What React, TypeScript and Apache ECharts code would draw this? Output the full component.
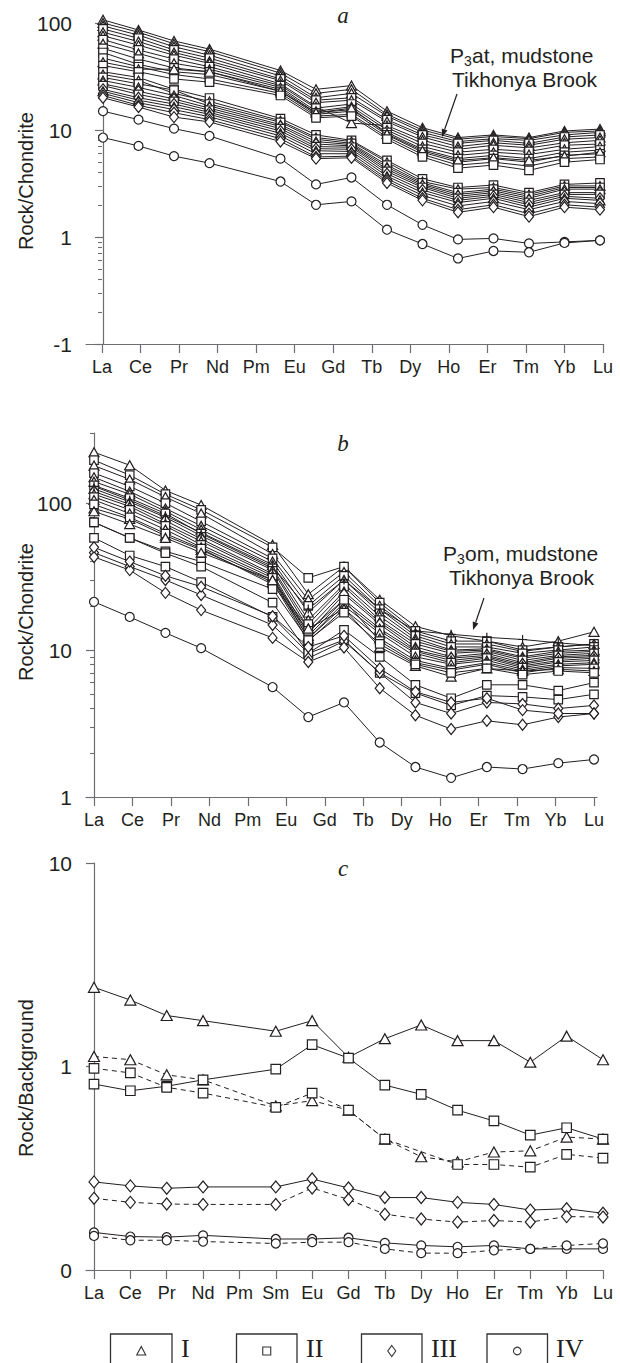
import React, { useEffect, useRef } from "react";
import * as echarts from "echarts";

// ---------- categories / tick labels ----------
const REE_ALL = ["La", "Ce", "Pr", "Nd", "Pm", "Sm", "Eu", "Gd", "Tb", "Dy", "Ho", "Er", "Tm", "Yb", "Lu"];
const REE_AB = ["La", "Ce", "Pr", "Nd", "Pm", "Eu", "Gd", "Tb", "Dy", "Ho", "Er", "Tm", "Yb", "Lu"];

const yTicksA = [0.1, 1, 10, 100];
const yTickTextA = ["-1", "1", "10", "100"];
const yTicksB = [1, 10, 100];
const yTickTextB = ["1", "10", "100"];
const yTicksC = [0.1, 1, 10];
const yTickTextC = ["0", "1", "10"];
const minorMultipliers = [2, 3, 4, 5, 6, 7, 8, 9];

// ---------- panel a (Rock/Chondrite) ----------
const a_I_1 = [107, 86, 68, 57, null, 36, 24, 26, 15, 10.5, 8.5, 9, 8.5, 9.8, 10.2];
const a_I_2 = [100, 82, 64, 54, null, 34, 22, 24, 14, 10, 8.2, 8.7, 8.3, 9.5, 9.8];
const a_I_3 = [94, 77, 60, 50, null, 32, 20, 22, 13.5, 9.5, 7.8, 8.3, 8, 9, 9.5];
const a_II_1 = [88, 72, 56, 47, null, 30, 19, 20, 12.5, 9, 7.5, 8, 7.5, 8.6, 9];
const a_I_4 = [82, 67, 53, 44, null, 29, 18, 19, 12, 8.6, 7, 7.6, 7.2, 8.2, 8.5];
const a_I_5 = [76, 62, 50, 42, null, 27, 16.5, 11.6, 11, 8, 6.6, 7.2, 6.8, 7.6, 8];
const a_II_2 = [70, 56, 46, 39, null, 26, 16, 17.5, 10.5, 7.5, 6.2, 6.6, 6.3, 7.2, 7.4];
const a_I_6 = [64, 52, 42, 37, null, 25, 15, 16.5, 10, 7, 5.8, 6.2, 5.9, 6.6, 7];
const a_II_3 = [58, 46, 38, 35, null, 24, 14.5, 15.5, 9.5, 6.6, 5.4, 5.8, 5.4, 6.2, 6.5];
const a_II_4 = [53, 41, 35, 33, null, 23, 14, 15, 9, 6.2, 5, 5.4, 5, 5.8, 6];
const a_II_5 = [47, 39, 33, 30, null, 22, 13.5, 14, 8.6, 5.9, 4.7, 5, 4.6, 5.4, 5.6];
const a_I_7 = [43, 37, 37, 35, null, 23, 14.5, 16, 9.2, 6.4, 5.2, 5.5, 5.2, 5.7, 6.2];
const a_II_6 = [40, 35, 30, 28, null, 21, 13, 13.5, 8.2, 5.6, 4.4, 4.7, 4.2, 5, 5.3];
const a_II_7 = [35, 31, 24, 19.9, null, 12.8, 9, 8, 5.2, 3.5, 2.9, 3.06, 2.6, 3.1, 3.2];
const a_I_8 = [33, 29, 22, 18.5, null, 12.2, 8.5, 7.8, 5, 3.3, 2.8, 2.9, 2.5, 3, 3];
const a_II_8 = [31, 27, 23.6, 17.5, null, 11.8, 8.2, 7.5, 4.7, 3.2, 2.6, 2.8, 2.4, 2.9, 2.9];
const a_I_9 = [29, 25, 21, 16.8, null, 11.2, 7.8, 7.3, 4.5, 3.1, 2.5, 2.7, 2.3, 2.8, 2.8];
const a_III_1 = [27, 23, 19.5, 16, null, 10.8, 7.4, 7.1, 4.3, 3, 2.4, 2.6, 2.2, 2.6, 2.6];
const a_II_9 = [26, 21.5, 18.5, 15.3, null, 10.3, 7, 6.9, 4.1, 2.9, 2.3, 2.5, 2.1, 2.5, 2.5];
const a_III_2 = [24, 20, 17.5, 14.6, null, 9.8, 6.7, 6.6, 3.9, 2.75, 2.2, 2.4, 2, 2.4, 2.3];
const a_I_10 = [23, 19, 16.5, 14, null, 9.3, 6.4, 6.3, 3.7, 2.6, 2.1, 2.3, 1.9, 2.3, 2.2];
const a_III_3 = [22, 18, 15.5, 13.3, null, 8.8, 6, 6, 3.5, 2.45, 1.95, 2.15, 1.8, 2.15, 2.05];
const a_III_4 = [21, 17, 14.5, 12.5, null, 8.3, 5.6, 5.7, 3.35, 2.3, 1.8, 2, 1.65, 2, 1.9];
const a_III_5 = [20, 16.4, 13.2, 11.9, null, 7.8, 5.4, 5.5, 3.2, 2.2, 1.7, 1.9, 1.55, 1.9, 1.8];
const a_IV_1 = [15, 12.5, 10.3, 8.8, null, 5.4, 3.1, 3.6, 2.0, 1.3, 0.95, 0.97, 0.87, 0.9, 0.93];
const a_IV_2 = [8.5, 7.1, 5.7, 4.9, null, 3.3, 2.0, 2.15, 1.17, 0.86, 0.63, 0.74, 0.72, 0.88, 0.93];

// ---------- panel b (Rock/Chondrite) ----------
const b_I_1 = [222, 181, 122, 97, null, 52, 24, 37, 22, 14.5, 12.5, 11.5, 10.5, 11.5, 13.3];
const b_II_1 = [196, 155, 115, 90, null, 50, 31, 37, 21, 13.5, 11.5, 11.5, 10, 10.5, 11];
const b_I_2 = [180, 145, 110, 85, null, 45, 22, 34, 20, 13, 11, 11, 9.8, 10.5, 11];
const b_II_2 = [160, 130, 100, 75, null, 42, 20, 32, 19, 12.5, 10.5, 10.5, 9.5, 10, 10.5];
const b_I_3 = [150, 120, 92, 70, null, 40, 18, 30, 18, 12, 10, 10.2, 9, 9.8, 10];
const b_I_4 = [140, 115, 88, 66, null, 38, 16, 28, 17, 11.5, 9.8, 10, 8.8, 9.5, 9.8];
const b_II_3 = [132, 108, 85, 62, null, 36, 15, 27, 16, 11, 9.5, 9.8, 8.5, 9.2, 9.5];
const b_I_5 = [125, 102, 80, 60, null, 35, 14, 25, 15.5, 10.5, 9, 9.5, 8.2, 9, 9.2];
const b_III_1 = [120, 98, 76, 57, null, 33, 13, 24, 15, 10, 8.8, 9.2, 8, 8.8, 9];
const b_I_6 = [115, 95, 72, 55, null, 32, 12.5, 22, 14, 9.8, 8.5, 9, 7.8, 8.5, 8.8];
const b_II_4 = [110, 90, 70, 52, null, 31, 12, 21, 13.5, 9.5, 8.2, 8.8, 7.6, 8.3, 8.5];
const b_I_7 = [105, 85, 66, 50, null, 30, 12, 20, 13, 9, 8, 8.5, 7.4, 8, 8.2];
const b_I_8 = [92, 78, 60, 48, null, 29, 11.5, 19, 12, 8.5, 7.5, 8.2, 7.2, 7.8, 8];
const b_II_5 = [98, 80, 62, 49, null, 28, 13.5, 22, 11.5, 8.2, 7.3, 8, 7, 7.6, 7.5];
const b_I_9 = [88, 72, 58, 46, null, 30, 14, 19, 10.5, 7.8, 6.6, 7.5, 7.2, 7.4, 7.2];
const b_II_6 = [74, 58, 47, 40, null, 26, 11.7, 18, 11, 8, 7, 7.5, 6.8, 7.2, 7];
const b_II_7 = [74, 58, 45.6, 37, null, 21, 9.5, 13.7, 9, 5.8, 4.7, 5.8, 5.8, 5.3, 6.0];
const b_II_8 = [58, 44, 37, 29, null, 16.8, 9.5, 11.7, 7, 5.1, 4.2, 4.9, 4.8, 4.6, 5.0];
const b_III_2 = [46, 37, 30, 23.7, null, 14.8, 8.8, 11.5, 7, 4.4, 3.7, 4.4, 4.3, 4.0, 4.2];
const b_III_3 = [43, 35, 24.5, 18.7, null, 12.1, 8.3, 10.4, 5.5, 3.6, 2.9, 3.3, 3.1, 3.5, 3.7];
const b_III_4 = [50, 40, 32, 27, null, 17, 10.5, 12.5, 7.5, 5.2, 4.4, 4.7, 3.9, 3.7, 3.7];
const b_IV_1 = [21.3, 16.8, 13.1, 10.3, null, 5.6, 3.5, 4.4, 2.35, 1.6, 1.35, 1.6, 1.55, 1.7, 1.8];
const b_X_1 = [130, 105, 82, 63, null, 37, 19, 30, 19, 13.5, 12.8, 12.2, 11.8, 11.2, 10.7];

// ---------- panel c (Rock/Background) ----------
const c_I_solid = [2.45, 2.12, 1.78, 1.68, null, 1.49, 1.68, 1.11, 1.37, 1.6, 1.34, 1.34, 1.05, 1.41, 1.08];
const c_I_dash = [1.12, 1.08, 0.91, 0.86, null, 0.64, 0.68, 0.61, 0.44, 0.36, 0.34, 0.38, 0.385, 0.45, 0.44];
const c_II_solid = [0.82, 0.76, 0.8, 0.86, null, 0.97, 1.28, 1.1, 0.81, 0.73, 0.61, 0.54, 0.46, 0.5, 0.44];
const c_II_dash = [0.98, 0.93, 0.79, 0.74, null, 0.63, 0.74, 0.61, 0.44, null, 0.33, 0.33, 0.32, 0.37, 0.355];
const c_III_solid = [0.271, 0.259, 0.252, 0.256, null, 0.256, 0.28, 0.253, 0.227, 0.227, 0.215, 0.21, 0.197, 0.2, 0.19];
const c_III_dash = [0.225, 0.215, 0.211, 0.21, null, 0.21, 0.253, 0.222, 0.188, 0.178, 0.172, 0.175, 0.172, 0.183, 0.182];
const c_IV_solid = [0.153, 0.146, 0.145, 0.148, null, 0.142, 0.142, 0.144, 0.136, 0.132, 0.13, 0.132, 0.127, 0.127, 0.127];
const c_IV_dash = [0.147, 0.14, 0.14, 0.138, null, 0.135, 0.137, 0.137, 0.127, 0.121, 0.121, 0.125, 0.127, 0.132, 0.135];

const panelA: [string, (number | null)[]][] = [
  ["I", a_I_1], ["I", a_I_2], ["I", a_I_3], ["II", a_II_1], ["I", a_I_4], ["I", a_I_5],
  ["II", a_II_2], ["I", a_I_6], ["II", a_II_3], ["II", a_II_4], ["II", a_II_5], ["I", a_I_7],
  ["II", a_II_6], ["II", a_II_7], ["I", a_I_8], ["II", a_II_8], ["I", a_I_9], ["III", a_III_1],
  ["II", a_II_9], ["III", a_III_2], ["I", a_I_10], ["III", a_III_3], ["III", a_III_4],
  ["III", a_III_5], ["IV", a_IV_1], ["IV", a_IV_2],
];
const panelB: [string, (number | null)[]][] = [
  ["I", b_I_1], ["II", b_II_1], ["I", b_I_2], ["II", b_II_2], ["I", b_I_3], ["I", b_I_4],
  ["II", b_II_3], ["I", b_I_5], ["III", b_III_1], ["I", b_I_6], ["II", b_II_4], ["I", b_I_7],
  ["I", b_I_8], ["II", b_II_5], ["I", b_I_9], ["II", b_II_6], ["II", b_II_7], ["II", b_II_8],
  ["III", b_III_2], ["III", b_III_3], ["III", b_III_4], ["IV", b_IV_1], ["X", b_X_1],
];
const panelC: [string, (number | null)[], boolean][] = [
  ["I", c_I_solid, false], ["I", c_I_dash, true], ["II", c_II_solid, false], ["II", c_II_dash, true],
  ["III", c_III_solid, false], ["III", c_III_dash, true], ["IV", c_IV_solid, false], ["IV", c_IV_dash, true],
];

// ---------- styles ----------
const LINE = "#231f20";
const AXIS = "#6d6e71";
const TXT = "#231f20";
const SANS = "'Liberation Sans', Arial, Helvetica, sans-serif";
const SERIF = "'Liberation Serif', 'Times New Roman', serif";

const SYMBOLS: Record<string, string> = {
  I: "triangle", II: "rect", III: "diamond", IV: "circle", X: "path://M0,5L10,5M5,0L5,10",
};
const SIZE_AB: Record<string, number[]> = { I: [10, 9], II: [8.5, 8.5], III: [9, 11], IV: [9, 9], X: [9, 9] };
const SIZE_C: Record<string, number[]> = { I: [11, 10], II: [9.5, 9.5], III: [10, 12], IV: [9, 9], X: [9, 9] };

function minorTicks(lo: number, hi: number) {
  const out: number[] = [];
  for (let d = lo; d < hi * 0.999; d *= 10) {
    minorMultipliers.forEach((k) => {
      const v = k * d;
      if (v <= hi * 1.0001) out.push(v);
    });
  }
  return out;
}

function tickFormatter(ticks: number[], texts: string[]) {
  return (v: number) => {
    const i = ticks.findIndex((t) => Math.abs(Math.log10(t) - Math.log10(v)) < 0.01);
    return i >= 0 ? texts[i] : "";
  };
}

function lineSeries(
  values: (number | null)[], kind: string, xi: number, yi: number,
  sizes: Record<string, number[]>, dashed = false
) {
  const data: number[][] = [];
  values.forEach((v, i) => {
    if (v != null) data.push([i, v]);
  });
  return {
    type: "line",
    xAxisIndex: xi,
    yAxisIndex: yi,
    data,
    symbol: SYMBOLS[kind],
    symbolSize: sizes[kind],
    showSymbol: true,
    showAllSymbol: true,
    connectNulls: true,
    silent: true,
    clip: false,
    lineStyle: { color: LINE, width: 1, type: dashed ? [5, 4] : "solid" },
    itemStyle: { color: "#fff", borderColor: LINE, borderWidth: 1.2 },
    emphasis: { disabled: true },
  };
}

function majorY(grid: number, min: number, max: number, ticks: number[], texts: string[]) {
  return {
    type: "log", logBase: 10, gridIndex: grid, min, max, position: "left",
    axisLine: { show: true, lineStyle: { color: AXIS, width: 1.2 } },
    axisTick: { show: true, length: 8, customValues: ticks, lineStyle: { color: AXIS, width: 1.2 } },
    axisLabel: {
      customValues: ticks, formatter: tickFormatter(ticks, texts), margin: 14,
      fontSize: 21, color: TXT, fontFamily: SANS,
    },
    splitLine: { show: false },
  };
}
function minorY(grid: number, min: number, max: number) {
  return {
    type: "log", logBase: 10, gridIndex: grid, min, max, position: "left",
    axisLine: { show: false },
    axisTick: { show: true, length: 4, customValues: minorTicks(min, max), lineStyle: { color: AXIS, width: 1.1 } },
    axisLabel: { show: false },
    splitLine: { show: false },
  };
}
function dataX(grid: number, min: number, max: number) {
  return {
    type: "value", gridIndex: grid, min, max, position: "bottom",
    axisLine: { show: true, onZero: false, lineStyle: { color: AXIS, width: 1.2 } },
    axisTick: { show: false }, axisLabel: { show: false }, splitLine: { show: false },
  };
}
function labelX(grid: number, min: number, max: number, labels: string[], showLine = false) {
  const vals = labels.map((_, i) => i);
  return {
    type: "value", gridIndex: grid, min, max, position: "bottom",
    axisLine: { show: showLine, onZero: false, lineStyle: { color: AXIS, width: 1.2 } },
    axisTick: { show: true, length: 9, customValues: vals, lineStyle: { color: AXIS, width: 1.2 } },
    axisLabel: {
      customValues: vals, formatter: (v: number) => labels[Math.round(v)] || "",
      margin: 14, fontSize: 18, color: TXT, fontFamily: SANS,
    },
    splitLine: { show: false },
  };
}

function buildOption() {
  const series: any[] = [];
  panelA.forEach(([k, vals]) => series.push(lineSeries(vals, k, 0, 0, SIZE_AB)));
  panelB.forEach(([k, vals]) => series.push(lineSeries(vals, k, 2, 2, SIZE_AB)));
  panelC.forEach(([k, vals, d]) => series.push(lineSeries(vals, k, 4, 4, SIZE_C, d)));

  const txt = (text: string, x: number, y: number, size: number, extra: any = {}) => ({
    type: "text", x, y, silent: true,
    style: {
      text, fontSize: size, fontFamily: SANS, fill: TXT,
      align: "left", verticalAlign: "middle", ...extra,
    },
  });
  const yName = (text: string, x: number, y: number) => ({
    type: "text", x, y, rotation: Math.PI / 2, silent: true,
    style: { text, fontSize: 20, fontFamily: SANS, fill: TXT, align: "center", verticalAlign: "middle" },
  });
  const title = (text: string, x: number, y: number) => ({
    type: "text", x, y, silent: true,
    style: {
      text, fontSize: 23, fontFamily: SERIF, fontStyle: "italic", fill: TXT,
      align: "center", verticalAlign: "middle",
    },
  });
  const arrow = (x1: number, y1: number, x2: number, y2: number) => {
    const dx = x2 - x1, dy = y2 - y1;
    const len = Math.sqrt(dx * dx + dy * dy);
    const ux = dx / len, uy = dy / len;
    const bx = x2 - ux * 8, by = y2 - uy * 8;
    const nx = -uy, ny = ux;
    return [
      { type: "line", silent: true, shape: { x1, y1, x2: bx, y2: by }, style: { stroke: LINE, lineWidth: 1.2 } },
      {
        type: "polygon", silent: true,
        shape: { points: [[x2, y2], [bx + nx * 3, by + ny * 3], [bx - nx * 3, by - ny * 3]] },
        style: { fill: LINE },
      },
    ];
  };

  const legendBoxes = [
    { x1: 110.5, x2: 172, kind: "I", label: "I", lx: 181 },
    { x1: 236.5, x2: 297, kind: "II", label: "II", lx: 306 },
    { x1: 361.5, x2: 422, kind: "III", label: "III", lx: 431 },
    { x1: 487, x2: 547.5, kind: "IV", label: "IV", lx: 556 },
  ];
  const legendEls: any[] = [];
  legendBoxes.forEach((b) => {
    const cx = (b.x1 + b.x2) / 2, cy = 1351;
    legendEls.push({
      type: "polyline", silent: true,
      shape: { points: [[b.x1, 1375], [b.x1, 1334], [b.x2, 1334], [b.x2, 1375]] },
      style: { stroke: "#333", lineWidth: 1.3, fill: null },
    });
    const st = { stroke: "#333", lineWidth: 1.1, fill: "#fff" };
    if (b.kind === "I") legendEls.push({ type: "polygon", silent: true, shape: { points: [[cx - 4.5, cy + 4], [cx + 4.5, cy + 4], [cx, cy - 4.5]] }, style: st });
    if (b.kind === "II") legendEls.push({ type: "rect", silent: true, shape: { x: cx - 4, y: cy - 4, width: 8, height: 8 }, style: st });
    if (b.kind === "III") legendEls.push({ type: "polygon", silent: true, shape: { points: [[cx, cy - 5.5], [cx + 4, cy], [cx, cy + 5.5], [cx - 4, cy]] }, style: st });
    if (b.kind === "IV") legendEls.push({ type: "circle", silent: true, shape: { cx, cy, r: 3.8 }, style: st });
    legendEls.push({
      type: "text", x: b.lx, y: 1348, silent: true,
      style: { text: b.label, fontSize: 26, fontFamily: SERIF, fill: TXT, align: "left", verticalAlign: "middle" },
    });
  });

  return {
    animation: false,
    backgroundColor: "#fff",
    grid: [
      { left: 86, top: 23, width: 517, height: 321 },
      { left: 86, top: 433, width: 511, height: 364 },
      { left: 86, top: 863, width: 517, height: 407 },
    ],
    xAxis: [
      dataX(0, -0.479, 14.085),
      labelX(0, -0.415, 13, REE_AB),
      dataX(1, -0.224, 14.084),
      labelX(1, -0.208, 13.078, REE_AB),
      labelX(2, -0.22, 14, REE_ALL, true),
    ],
    yAxis: [
      majorY(0, 0.1, 100, yTicksA, yTickTextA),
      minorY(0, 0.1, 100),
      majorY(1, 1, 300, yTicksB, yTickTextB),
      minorY(1, 1, 300),
      majorY(2, 0.1, 10, yTicksC, yTickTextC),
    ],
    series,
    graphic: [
      title("a", 343, 15),
      title("b", 343, 443),
      title("c", 343, 868),
      yName("Rock/Chondrite", 26, 181),
      yName("Rock/Chondrite", 26, 612),
      yName("Rock/Background", 26, 1078),
      txt("P", 450, 55, 21),
      txt("3", 464, 60.5, 14),
      txt("at, mudstone", 472, 55, 21),
      txt("Tikhonya Brook", 452, 79, 21),
      ...arrow(457, 94, 442, 137),
      txt("P", 443, 553, 21),
      txt("3", 457, 558.5, 14),
      txt("om, mudstone", 465, 553, 21),
      txt("Tikhonya Brook", 449, 577, 21),
      ...arrow(484, 598, 473, 630),
      ...legendEls,
    ],
  };
}

export default function App() {
  const ref = useRef<HTMLDivElement>(null);
  useEffect(() => {
    if (!ref.current) return;
    const chart = echarts.init(ref.current, null, { renderer: "svg" });
    chart.setOption(buildOption() as any);
    return () => chart.dispose();
  }, []);
  return (
    <div
      ref={ref}
      style={{ position: "absolute", left: 0, top: 0, width: 620, height: 1363, background: "#fff" }}
    />
  );
}
